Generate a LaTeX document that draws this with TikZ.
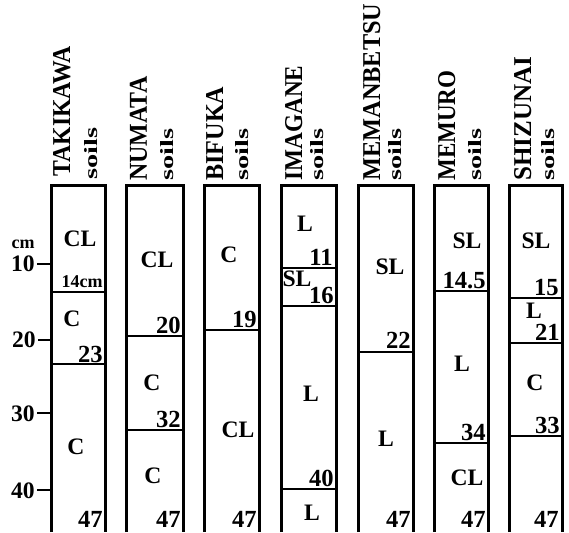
\documentclass[tikz,border=0pt]{standalone}
\usepackage{fontspec}
\setmainfont{Liberation Serif}
\usepackage{graphicx}
\begin{document}
\begin{tikzpicture}[x=0.5pt,y=-0.5pt,
  box/.style={line width=1.5pt},
  hz/.style={line width=1.1pt},
  hlab/.style={font=\fontsize{11.8}{12}\selectfont\bfseries, inner sep=0pt},
  num/.style={font=\fontsize{12.3}{12}\selectfont\bfseries, inner sep=0pt, anchor=base east},
  colname/.style={rotate=90, inner sep=0pt, anchor=base west, font=\bfseries},
  tick/.style={line width=1pt},
]
\useasboundingbox (0,0) rectangle (569,532);

% ---- column frames (open at the bottom)
\draw[box] (51,532) -- (51,185) -- (105,185) -- (105,532);
\draw[box] (126,532) -- (126,185) -- (183,185) -- (183,532);
\draw[box] (204,532) -- (204,185) -- (259,185) -- (259,532);
\draw[box] (281,532) -- (281,185) -- (336,185) -- (336,532);
\draw[box] (358,532) -- (358,185) -- (413,185) -- (413,532);
\draw[box] (434,532) -- (434,185) -- (488,185) -- (488,532);
\draw[box] (509,532) -- (509,185) -- (562,185) -- (562,532);

% ---- column titles
\node[colname] (nTak) at (70,177) {\resizebox{65pt}{8.5pt}{TAKIKAWA}};
\node[colname] (sTak) at (97,180) {\resizebox{26pt}{6.5pt}{soils}};
\node[colname] (nNum) at (147,181) {\resizebox{52pt}{8.5pt}{NUMATA}};
\node[colname] (sNum) at (173,181) {\resizebox{26pt}{6.5pt}{soils}};
\node[colname] (nBif) at (223,181) {\resizebox{47pt}{8.5pt}{BIFUKA}};
\node[colname] (sBif) at (248,181) {\resizebox{26pt}{6.5pt}{soils}};
\node[colname] (nIma) at (302,181) {\resizebox{57.5pt}{8.5pt}{IMAGANE}};
\node[colname] (sIma) at (323,181) {\resizebox{26pt}{6.5pt}{soils}};
\node[colname] (nMab) at (380,181) {\resizebox{88.5pt}{8.5pt}{MEMANBETSU}};
\node[colname] (sMab) at (401,181) {\resizebox{26pt}{6.5pt}{soils}};
\node[colname] (nMem) at (455,181) {\resizebox{55pt}{8.5pt}{MEMURO}};
\node[colname] (sMem) at (481,181) {\resizebox{26pt}{6.5pt}{soils}};
\node[colname] (nShi) at (531,181) {\resizebox{62pt}{8.5pt}{SHIZUNAI}};
\node[colname] (sShi) at (554,181) {\resizebox{26pt}{6.5pt}{soils}};

% ---- depth axis
\node[font=\fontsize{9}{10}\selectfont\bfseries, inner sep=0pt] (cm) at (23,244) {cm};
\coordinate (t10a) at (37,264); \coordinate (t10b) at (51,264);
\coordinate (t20a) at (38,340); \coordinate (t20b) at (51,340);
\coordinate (t30a) at (37,413); \coordinate (t30b) at (51,413);
\coordinate (t40a) at (37,490); \coordinate (t40b) at (51,490);
\draw[tick] (t10a) -- (t10b);
\draw[tick] (t20a) -- (t20b);
\draw[tick] (t30a) -- (t30b);
\draw[tick] (t40a) -- (t40b);
\node[hlab, anchor=east] (a10) at (35,264) {10};
\node[hlab, anchor=east] (a20) at (36,340) {20};
\node[hlab, anchor=east] (a30) at (35,414) {30};
\node[hlab, anchor=east] (a40) at (35,491) {40};

% ---- TAKIKAWA
\draw[hz] (51,292) -- (105,292);
\draw[hz] (51,364) -- (105,364);
\node[hlab] (tk1) at (80,239) {CL};
\node[hlab] (tk2) at (72,319) {C};
\node[hlab] (tk3) at (76,447) {C};
\node[num, font=\fontsize{9}{10}\selectfont\bfseries] (tkd1) at (103,287) {14cm};
\node[num] (tkd2) at (103,362) {23};
\node[num] (tkd3) at (103,527) {47};

% ---- NUMATA
\draw[hz] (126,336) -- (183,336);
\draw[hz] (126,430) -- (183,430);
\node[hlab] (nu1) at (157,260) {CL};
\node[hlab] (nu2) at (152,383) {C};
\node[hlab] (nu3) at (153,476) {C};
\node[num] (nud1) at (181,333) {20};
\node[num] (nud2) at (181,427) {32};
\node[num] (nud3) at (181,527) {47};

% ---- BIFUKA
\draw[hz] (204,330) -- (259,330);
\node[hlab] (bi1) at (229,255) {C};
\node[hlab] (bi2) at (238,430) {CL};
\node[num] (bid1) at (257,327) {19};
\node[num] (bid2) at (257,527) {47};

% ---- IMAGANE
\draw[hz] (281,268) -- (336,268);
\draw[hz] (281,306) -- (336,306);
\draw[hz] (281,489) -- (336,489);
\node[hlab] (im1) at (305,224) {L};
\node[hlab] (im2) at (297,279) {SL};
\node[hlab] (im3) at (311,394) {L};
\node[hlab] (im4) at (312,513) {L};
\node[num] (imd1) at (333,265) {11};
\node[num] (imd2) at (334,303) {16};
\node[num] (imd3) at (334,486) {40};

% ---- MEMANBETSU
\draw[hz] (358,352) -- (413,352);
\node[hlab] (ma1) at (390,267) {SL};
\node[hlab] (ma2) at (386,439) {L};
\node[num] (mad1) at (411,348) {22};
\node[num] (mad2) at (411,527) {47};

% ---- MEMURO
\draw[hz] (434,291) -- (488,291);
\draw[hz] (434,443) -- (488,443);
\node[hlab] (me1) at (467,241) {SL};
\node[hlab] (me2) at (462,364) {L};
\node[hlab] (me3) at (467,478) {CL};
\node[num] (med1) at (486,288) {14.5};
\node[num] (med2) at (486,440) {34};
\node[num] (med3) at (486,527) {47};

% ---- SHIZUNAI
\draw[hz] (509,298) -- (562,298);
\draw[hz] (509,343) -- (562,343);
\draw[hz] (509,436) -- (562,436);
\node[hlab] (sh1) at (536,241) {SL};
\node[hlab] (sh2) at (534,311) {L};
\node[hlab] (sh3) at (535,383) {C};
\node[num] (shd1) at (559,295) {15};
\node[num] (shd2) at (560,340) {21};
\node[num] (shd3) at (560,433) {33};
\node[num] (shd4) at (559,527) {47};
\end{tikzpicture}
\end{document}
